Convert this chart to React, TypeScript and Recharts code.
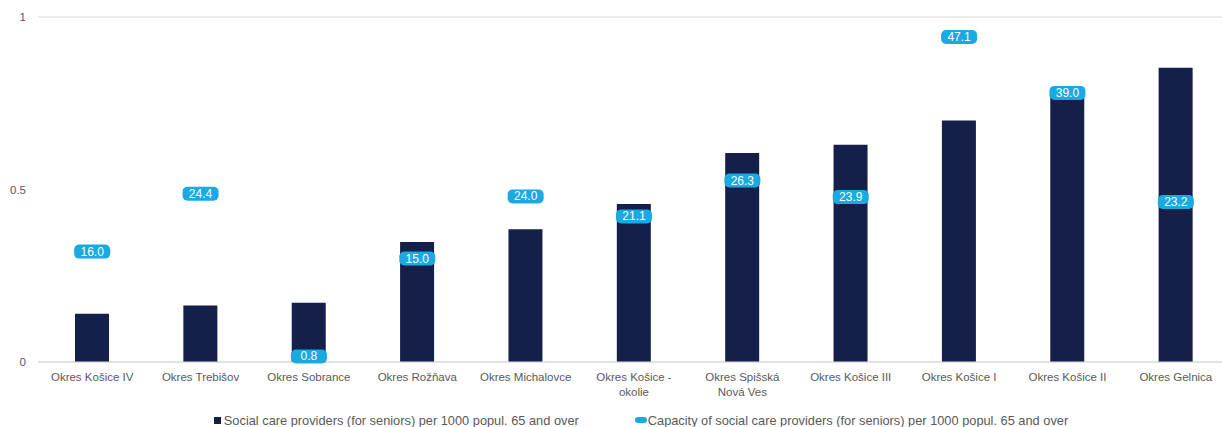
import { Bar, Line, XAxis, YAxis, CartesianGrid, Legend, ComposedChart } from 'recharts';

const categories = [
  'Okres Košice IV',
  'Okres Trebišov',
  'Okres Sobrance',
  'Okres Rožňava',
  'Okres Michalovce',
  'Okres Košice - okolie',
  'Okres Spišská Nová Ves',
  'Okres Košice III',
  'Okres Košice I',
  'Okres Košice II',
  'Okres Gelnica',
];

// providers per 1000 popul. 65+
const providers = [0.14, 0.164, 0.172, 0.348, 0.385, 0.458, 0.606, 0.63, 0.7, 0.78, 0.853];
// capacity per 1000 popul. 65+
const capacity = [16.0, 24.4, 0.8, 15.0, 24.0, 21.1, 26.3, 23.9, 47.1, 39.0, 23.2];

const yTicks = [0, 0.5, 1];

const NAVY = '#141f4a';
const CYAN = '#1aa9e1';
const TEXT = '#595959';
const FONT = '"Liberation Sans", Arial, sans-serif';

const data = categories.map((name, i) => ({
  name,
  providers: providers[i],
  capacity: capacity[i],
}));

const wrap = (text: string, max: number) => {
  const words = text.split(' ');
  const lines: string[] = [];
  let cur = '';
  words.forEach((w) => {
    const next = cur ? cur + ' ' + w : w;
    if (next.length > max && cur) {
      lines.push(cur);
      cur = w;
    } else {
      cur = next;
    }
  });
  if (cur) lines.push(cur);
  return lines;
};

const CategoryTick = (props: any) => {
  const { x, y, payload } = props;
  const lines = wrap(payload.value, 16);
  return (
    <text x={x} y={y} textAnchor="middle" fill={TEXT} fontSize={11.5} fontFamily={FONT}>
      {lines.map((l, i) => (
        <tspan key={i} x={x} dy={i === 0 ? 11 : 15}>
          {l}
        </tspan>
      ))}
    </text>
  );
};

const PillLabel = (props: any) => {
  const { x, y, value } = props;
  if (x == null || y == null) return null;
  const w = 36;
  const h = 14;
  return (
    <g>
      <rect x={x - w / 2} y={y - h / 2} width={w} height={h} rx={5} ry={5} fill={CYAN} />
      <text x={x} y={y + 4} textAnchor="middle" fill="#ffffff" fontSize={12} fontFamily={FONT}>
        {Number(value).toFixed(1)}
      </text>
    </g>
  );
};

const LegendContent = () => (
  <div
    style={{
      height: 33,
      display: 'flex',
      justifyContent: 'center',
      alignItems: 'flex-end',
      paddingLeft: 44,
      fontFamily: FONT,
      fontSize: 12.8,
      color: TEXT,
      boxSizing: 'border-box',
    }}
  >
    <div style={{ display: 'flex', alignItems: 'center', marginRight: 56, height: 14 }}>
      <span style={{ display: 'inline-block', width: 7, height: 7, background: NAVY, marginRight: 3 }} />
      Social care providers (for seniors) per 1000 popul. 65 and over
    </div>
    <div style={{ display: 'flex', alignItems: 'center', height: 14 }}>
      <span
        style={{ display: 'inline-block', width: 12, height: 6, background: CYAN, borderRadius: 3, marginRight: 1 }}
      />
      Capacity of social care providers (for seniors) per 1000 popul. 65 and over
    </div>
  </div>
);

export default function App() {
  return (
    <div style={{ position: 'absolute', left: 0, top: 0, width: 1222, height: 427, overflow: 'hidden', background: '#fff' }}>
      <ComposedChart
        width={1232}
        height={427}
        data={data}
        margin={{ top: 17, right: 2, left: 8, bottom: 0 }}
        barCategoryGap="34%"
      >
        <CartesianGrid vertical={false} stroke="#d9d9d9" />
        <XAxis
          dataKey="name"
          interval={0}
          height={32}
          tickLine={false}
          axisLine={{ stroke: '#d9d9d9' }}
          tick={<CategoryTick />}
        />
        <YAxis
          yAxisId="left"
          domain={[0, 1]}
          ticks={yTicks}
          width={30}
          tickLine={false}
          axisLine={false}
          tickMargin={6}
          tick={{ fill: TEXT, fontSize: 11.5, fontFamily: FONT }}
        />
        <YAxis yAxisId="right" orientation="right" domain={[0, 50]} hide />
        <Bar yAxisId="left" dataKey="providers" fill={NAVY} barSize={34} isAnimationActive={false} />
        <Line
          yAxisId="right"
          dataKey="capacity"
          stroke="none"
          dot={false}
          activeDot={false}
          isAnimationActive={false}
          label={<PillLabel />}
        />
        <Legend verticalAlign="bottom" height={33} content={<LegendContent />} />
      </ComposedChart>
    </div>
  );
}
